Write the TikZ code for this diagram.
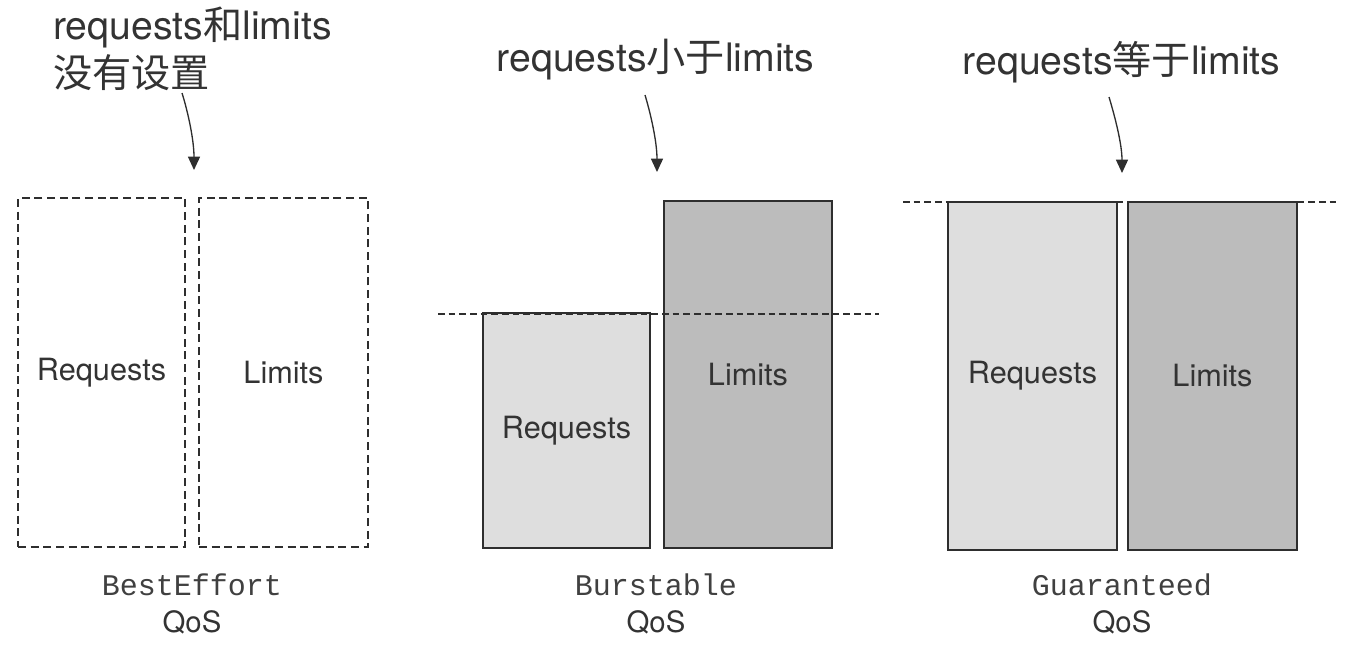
\documentclass[tikz,border=0pt]{standalone}
\usepackage{fontspec}
\setmainfont{TeX Gyre Heros}
\setmonofont{Liberation Mono}
\newfontfamily\cjk{Noto Sans CJK SC}
\usetikzlibrary{arrows.meta}
\definecolor{txt}{HTML}{333333}
\definecolor{mtxt}{HTML}{404040}
\definecolor{reqfill}{HTML}{DEDEDE}
\definecolor{limfill}{HTML}{BCBCBC}
\definecolor{edge}{HTML}{2E2E2E}
\tikzset{
  boxlbl/.style={font=\fontsize{23}{27}\selectfont, text=txt},
  dbox/.style={draw=edge, line width=1.3pt, dash pattern=on 6pt off 3.5pt, inner sep=0pt, outer sep=0pt, boxlbl},
  sbox/.style={draw=edge, line width=1.4pt, inner sep=0pt, outer sep=0pt, boxlbl},
  toplbl/.style={font=\fontsize{29.4}{36}\selectfont, text=txt, inner sep=0pt},
  monolbl/.style={font=\ttfamily\fontsize{22.5}{26}\selectfont, text=mtxt, inner sep=0pt},
  qoslbl/.style={font=\fontsize{22}{26}\selectfont, text=txt, inner sep=0pt},
  lvl/.style={draw=edge, line width=1pt, dash pattern=on 5pt off 3pt},
  pointer/.style={draw=edge, line width=1pt, -{Triangle[width=9pt,length=10pt]}},
}
\begin{document}
\begin{tikzpicture}[x=0.75pt,y=-0.75pt]
\useasboundingbox (0,0) rectangle (1356,662);
% panel 1
\node[toplbl, anchor=west, align=left] (t1) at (53,49) {requests{\cjk 和}limits\\{\cjk 没有设置}};
\node[dbox, minimum width=125.25pt, minimum height=261.75pt] (r1) at (101.5,372.5) {Requests};
\node[dbox, minimum width=126.75pt, minimum height=261.75pt] (l1) at (283.5,372.5) {Limits};
\node[monolbl] (m1) at (192,585) {BestEffort};
\node[qoslbl] (q1) at (192,622) {QoS};
\coordinate (a1s) at (182,93);
\coordinate (a1e) at (194,170);
\draw[pointer] (a1s) .. controls (188,112) and (194,140) .. (a1e);
% panel 2
\node[toplbl] (t2) at (655.5,60) {requests{\cjk 小于}limits};
\node[sbox, fill=reqfill, minimum width=125.25pt, minimum height=176.25pt] (r2) at (566.5,430.5) {Requests};
\node[sbox, fill=limfill, minimum width=126pt, minimum height=260.25pt] (l2) at (748,374.5) {Limits};
\coordinate (d2a) at (438,314);
\coordinate (d2b) at (879,314);
\draw[lvl] (d2a) -- (d2b);
\node[monolbl] (m2) at (656,585) {Burstable};
\node[qoslbl] (q2) at (656,622) {QoS};
\coordinate (a2s) at (645,95);
\coordinate (a2e) at (657,172);
\draw[pointer] (a2s) .. controls (651,115) and (657,142) .. (a2e);
% panel 3
\node[toplbl] (t3) at (1121.5,62) {requests{\cjk 等于}limits};
\coordinate (d3a) at (903,202);
\coordinate (d3b) at (1337,202);
\draw[lvl] (d3a) -- (d3b);
\node[sbox, fill=reqfill, minimum width=126.75pt, minimum height=261pt] (r3) at (1032.5,376) {Requests};
\node[sbox, fill=limfill, minimum width=126.75pt, minimum height=261pt] (l3) at (1212.5,376) {Limits};
\node[monolbl] (m3) at (1122,585) {Guaranteed};
\node[qoslbl] (q3) at (1122,622) {QoS};
\coordinate (a3s) at (1109,97);
\coordinate (a3e) at (1122,173);
\draw[pointer] (a3s) .. controls (1115,117) and (1122,144) .. (a3e);
\end{tikzpicture}
\end{document}
